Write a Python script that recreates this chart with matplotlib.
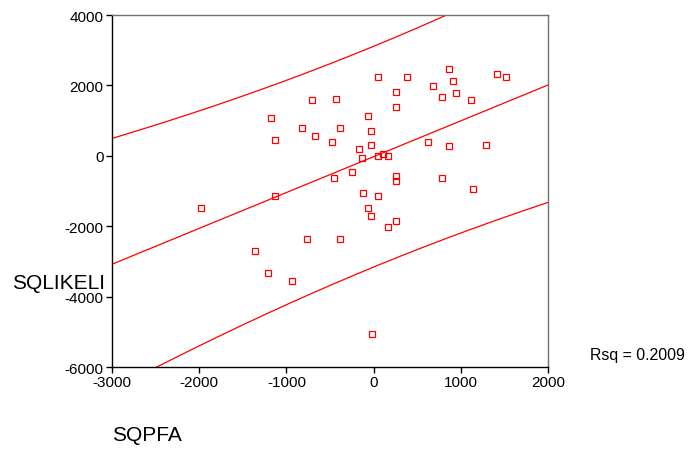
import numpy as np
import matplotlib
matplotlib.use("Agg")
import matplotlib.pyplot as plt

plt.rcParams['font.family'] = ['Liberation Sans', 'DejaVu Sans']

# Data (SQPFA, SQLIKELI)
sqpfa = [-710, -1180, -820, -675, -1130,
         50, 385, 870, 905, 1410, 1515, 680, 940, 785, 1115, 260, 260,
         -430, -65, -380, -30, -480, -30, 625, 870, 1285, -170, -135,
         50, 105, 160, -245, -450, 260, 260, 785, 1145,
         -1980, -1130, -765, -1355, -1210, -935,
         -120, 50, -65, -30, 260, 160, -380, -15]
sqlikeli = [1590, 1070, 780, 570, 440,
            2230, 2230, 2455, 2115, 2320, 2230, 1970, 1775, 1680, 1590, 1810, 1375,
            1600, 1120, 780, 695, 390, 305, 390, 270, 305, 185, -70,
            0, 40, 0, -470, -640, -565, -725, -640, -955,
            -1490, -1150, -2350, -2695, -3335, -3555,
            -1065, -1150, -1490, -1710, -1840, -2010, -2350, -5060]

x_ticks = [-3000, -2000, -1000, 0, 1000, 2000]
y_ticks = [-6000, -4000, -2000, 0, 2000, 4000]
rsq_label = "Rsq = 0.2009"

x = np.array(sqpfa, dtype=float)
y = np.array(sqlikeli, dtype=float)
n = len(x)
b, a = np.polyfit(x, y, 1)
resid = y - (a + b * x)
s = np.sqrt(np.sum(resid**2) / (n - 2))
xbar = x.mean()
sxx = np.sum((x - xbar)**2)
t = 2.01
xs = np.linspace(-3000, 2000, 400)
yhat = a + b * xs
half = t * s * np.sqrt(1 + 1/n + (xs - xbar)**2 / sxx)

fig = plt.figure(figsize=(6.89, 4.52), dpi=100)
ax = fig.add_axes([112/689, 1-368/452, 436/689, 352/452])

red = '#ff0000'
ax.plot(xs, yhat, color=red, lw=0.9)
ax.plot(xs, yhat + half, color=red, lw=0.9)
ax.plot(xs, yhat - half, color=red, lw=0.9)
ax.plot(x, y, linestyle='none', marker='s', markersize=5,
        markerfacecolor='none', markeredgecolor=red, markeredgewidth=0.9)

ax.set_xlim(-3000, 2000)
ax.set_ylim(-6000, 4000)
ax.set_xticks(x_ticks)
ax.set_yticks(y_ticks)
ax.set_xticklabels([str(v) for v in x_ticks])
ax.set_yticklabels([str(v) for v in y_ticks])
ax.tick_params(direction='out', length=4, width=1, labelsize=11, pad=2)
for side in ['left', 'bottom']:
    ax.spines[side].set_color('black')
    ax.spines[side].set_linewidth(1)
for side in ['top', 'right']:
    ax.spines[side].set_color('#707070')
    ax.spines[side].set_linewidth(1)

fig.text(12/689, 1-284/452, "SQLIKELI", fontsize=15, ha='left', va='center')
fig.text(112/689, 1-436/452, "SQPFA", fontsize=15, ha='left', va='center')
fig.text(590/689, 1-356/452, rsq_label, fontsize=11.4, ha='left', va='center')

fig.savefig("out.png", dpi=100)
